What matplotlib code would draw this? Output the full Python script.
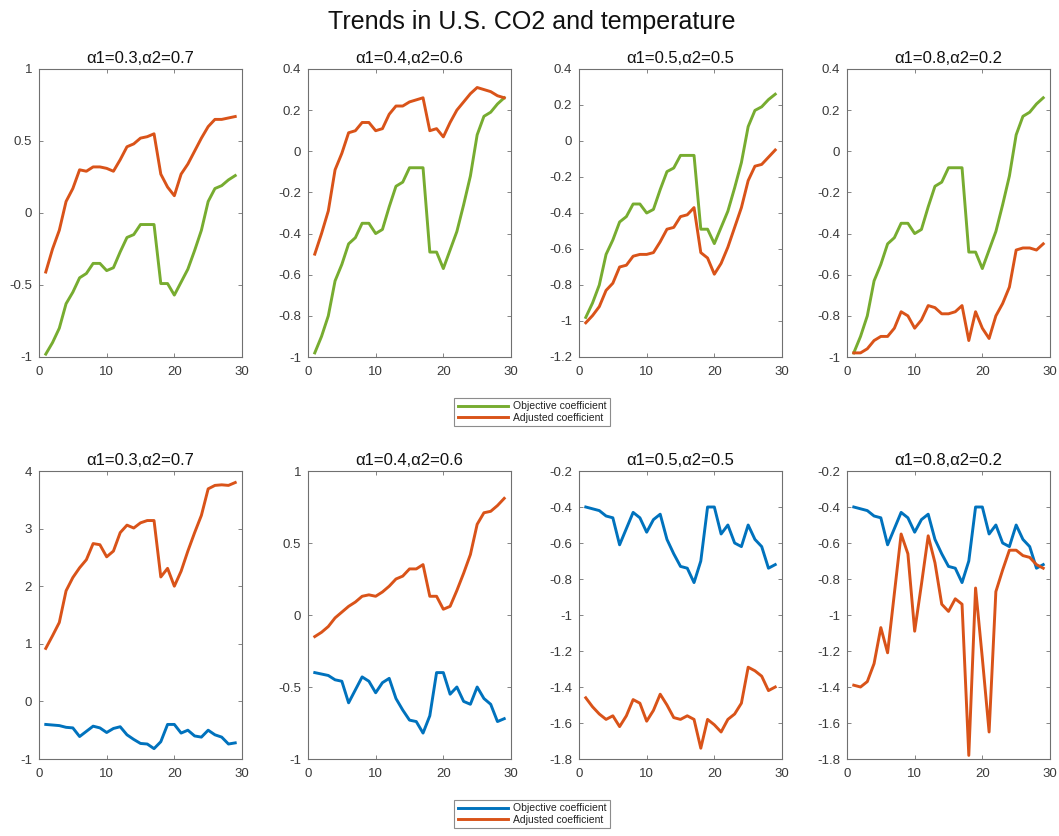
import matplotlib
matplotlib.use("Agg")
import matplotlib.pyplot as plt
from matplotlib.lines import Line2D
import numpy as np

plt.rcParams['font.family'] = ['Liberation Sans', 'DejaVu Sans']
plt.rcParams['axes.unicode_minus'] = False

x = list(range(1, 30))

# Top row: objective coefficient (green) shared by all four panels
top_objective = [-0.98, -0.90, -0.80, -0.63, -0.55, -0.45, -0.42, -0.35, -0.35, -0.40,
                 -0.38, -0.27, -0.17, -0.15, -0.08, -0.08, -0.08, -0.49, -0.49, -0.57,
                 -0.48, -0.39, -0.26, -0.12, 0.08, 0.17, 0.19, 0.23, 0.26]

top_adj_03 = [-0.41, -0.25, -0.12, 0.08, 0.17, 0.30, 0.29, 0.32, 0.32, 0.31,
              0.29, 0.37, 0.46, 0.48, 0.52, 0.53, 0.55, 0.27, 0.18, 0.12,
              0.27, 0.34, 0.43, 0.52, 0.60, 0.65, 0.65, 0.66, 0.67]
top_adj_04 = [-0.50, -0.40, -0.29, -0.09, -0.01, 0.09, 0.10, 0.14, 0.14, 0.10,
              0.11, 0.18, 0.22, 0.22, 0.24, 0.25, 0.26, 0.10, 0.11, 0.07,
              0.14, 0.20, 0.24, 0.28, 0.31, 0.30, 0.29, 0.27, 0.26]
top_adj_05 = [-1.01, -0.97, -0.92, -0.83, -0.79, -0.70, -0.69, -0.64, -0.63, -0.63,
              -0.62, -0.56, -0.49, -0.48, -0.42, -0.41, -0.37, -0.62, -0.65, -0.74,
              -0.68, -0.59, -0.48, -0.37, -0.22, -0.14, -0.13, -0.09, -0.05]
top_adj_08 = [-0.98, -0.98, -0.96, -0.92, -0.90, -0.90, -0.86, -0.78, -0.80, -0.86,
              -0.82, -0.75, -0.76, -0.79, -0.79, -0.78, -0.75, -0.92, -0.78, -0.86,
              -0.91, -0.80, -0.74, -0.66, -0.48, -0.47, -0.47, -0.48, -0.45]

# Bottom row: objective coefficient (blue) shared by all four panels
bot_objective = [-0.40, -0.41, -0.42, -0.45, -0.46, -0.61, -0.52, -0.43, -0.46, -0.54,
                 -0.47, -0.44, -0.58, -0.66, -0.73, -0.74, -0.82, -0.70, -0.40, -0.40,
                 -0.55, -0.50, -0.60, -0.62, -0.50, -0.58, -0.62, -0.74, -0.72]

bot_adj_03 = [0.92, 1.14, 1.37, 1.92, 2.15, 2.32, 2.46, 2.74, 2.72, 2.51,
              2.61, 2.93, 3.06, 3.01, 3.10, 3.14, 3.14, 2.16, 2.31, 2.00,
              2.26, 2.61, 2.93, 3.23, 3.69, 3.75, 3.76, 3.75, 3.80]
bot_adj_04 = [-0.15, -0.12, -0.08, -0.02, 0.02, 0.06, 0.09, 0.13, 0.14, 0.13,
              0.16, 0.20, 0.25, 0.27, 0.32, 0.32, 0.35, 0.13, 0.13, 0.04,
              0.06, 0.17, 0.29, 0.42, 0.63, 0.71, 0.72, 0.76, 0.81]
bot_adj_05 = [-1.46, -1.51, -1.55, -1.58, -1.56, -1.62, -1.56, -1.47, -1.49, -1.59,
              -1.53, -1.44, -1.50, -1.57, -1.58, -1.56, -1.58, -1.74, -1.58, -1.61,
              -1.65, -1.58, -1.55, -1.49, -1.29, -1.31, -1.34, -1.42, -1.40]
bot_adj_08 = [-1.39, -1.40, -1.37, -1.27, -1.07, -1.21, -0.88, -0.55, -0.66, -1.09,
              -0.83, -0.56, -0.71, -0.94, -0.98, -0.91, -0.94, -1.78, -0.85, -1.24,
              -1.65, -0.87, -0.75, -0.64, -0.64, -0.67, -0.68, -0.72, -0.74]

titles = ['α1=0.3,α2=0.7', 'α1=0.4,α2=0.6', 'α1=0.5,α2=0.5', 'α1=0.8,α2=0.2']
top_adjusted = [top_adj_03, top_adj_04, top_adj_05, top_adj_08]
bot_adjusted = [bot_adj_03, bot_adj_04, bot_adj_05, bot_adj_08]

top_ylims = [(-1, 1), (-1, 0.4), (-1.2, 0.4), (-1, 0.4)]
top_yticks = [[-1, -0.5, 0, 0.5, 1],
              [-1, -0.8, -0.6, -0.4, -0.2, 0, 0.2, 0.4],
              [-1.2, -1, -0.8, -0.6, -0.4, -0.2, 0, 0.2, 0.4],
              [-1, -0.8, -0.6, -0.4, -0.2, 0, 0.2, 0.4]]
bot_ylims = [(-1, 4), (-1, 1), (-1.8, -0.2), (-1.8, -0.2)]
bot_yticks = [[-1, 0, 1, 2, 3, 4],
              [-1, -0.5, 0, 0.5, 1],
              [-1.8, -1.6, -1.4, -1.2, -1, -0.8, -0.6, -0.4, -0.2],
              [-1.8, -1.6, -1.4, -1.2, -1, -0.8, -0.6, -0.4, -0.2]]
xticks = [0, 10, 20, 30]

GREEN = '#77AC30'
ORANGE = '#D95319'
BLUE = '#0072BD'
SPINE = '#707070'
TICKC = '#3a3a3a'

W, H = 1059, 836
fig = plt.figure(figsize=(W / 100, H / 100), dpi=100)
fig.patch.set_facecolor('white')

lefts = [39, 308, 579, 847]
axw = 203
top_rows = (69, 357)
bot_rows = (471, 759)


def fmt(v):
    return '%g' % v


def style(ax, ylim, yticks):
    ax.set_xlim(0, 30)
    ax.set_ylim(*ylim)
    ax.set_xticks(xticks)
    ax.set_yticks(yticks)
    ax.set_xticklabels([fmt(v) for v in xticks])
    ax.set_yticklabels([fmt(v) for v in yticks])
    ax.tick_params(direction='in', top=True, right=True, length=3, width=0.6,
                   colors=SPINE, labelcolor=TICKC, labelsize=9.5)
    ax.tick_params(axis='x', pad=6.5)
    ax.tick_params(axis='y', pad=5)
    for s in ax.spines.values():
        s.set_color(SPINE)
        s.set_linewidth(0.8)


def make_ax(left, rows):
    t, b = rows
    return fig.add_axes([left / W, 1 - b / H, axw / W, (b - t) / H])


for i in range(4):
    ax = make_ax(lefts[i], top_rows)
    ax.plot(x, top_objective, color=GREEN, lw=2.1)
    ax.plot(x, top_adjusted[i], color=ORANGE, lw=2.1)
    style(ax, top_ylims[i], top_yticks[i])
    ax.set_title(titles[i], fontsize=12, pad=4, color='#111111')

    ax = make_ax(lefts[i], bot_rows)
    ax.plot(x, bot_objective, color=BLUE, lw=2.1)
    ax.plot(x, bot_adjusted[i], color=ORANGE, lw=2.1)
    style(ax, bot_ylims[i], bot_yticks[i])
    ax.set_title(titles[i], fontsize=12, pad=4, color='#111111')

fig.text(532 / W, 1 - 22 / H, 'Trends in U.S. CO2 and temperature',
         ha='center', va='center', fontsize=18, color='#111111')

labels = ['Objective coefficient', 'Adjusted coefficient']
h1 = [Line2D([], [], color=GREEN, lw=2.1), Line2D([], [], color=ORANGE, lw=2.1)]
h2 = [Line2D([], [], color=BLUE, lw=2.1), Line2D([], [], color=ORANGE, lw=2.1)]
for handles, yc in [(h1, 412), (h2, 814)]:
    leg = fig.legend(handles, labels, loc='center', bbox_to_anchor=(532 / W, 1 - yc / H),
                     fontsize=7.5, frameon=True, fancybox=False, handlelength=4.8,
                     handletextpad=0.5, borderpad=0.35, labelspacing=0.15,
                     borderaxespad=0)
    fr = leg.get_frame()
    fr.set_edgecolor(SPINE)
    fr.set_linewidth(0.8)
    for t in leg.get_texts():
        t.set_color('#222222')

fig.savefig('out.png', dpi=100, facecolor='white')
